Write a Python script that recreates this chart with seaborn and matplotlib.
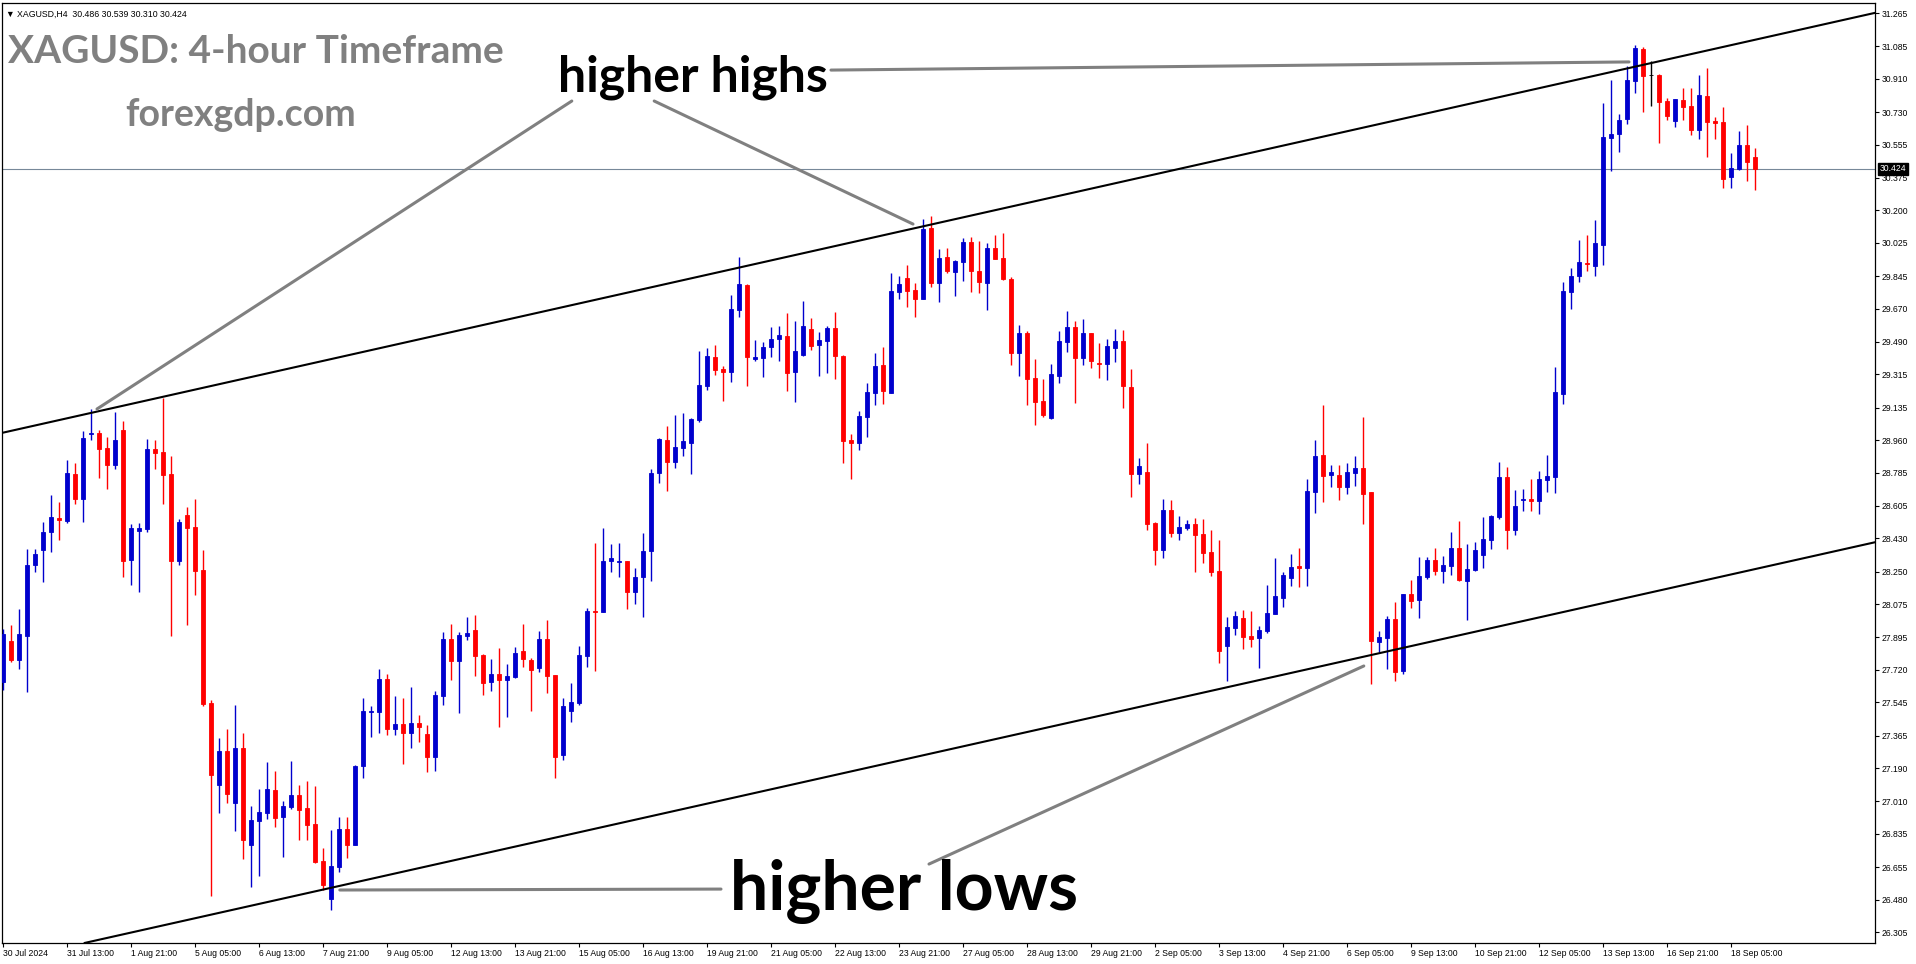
import matplotlib
matplotlib.use("Agg")
import matplotlib.pyplot as plt
import seaborn as sns
import numpy as np
import pandas as pd

# XAGUSD H4 candles, 30 Jul - 18 Sep 2024
opens = [
    27.655, 27.875, 27.772, 27.902, 28.285, 28.366, 28.463, 28.541, 28.524, 28.776,
    28.643, 28.994, 28.998, 28.917, 28.827, 29.014, 28.312, 28.470, 28.481, 28.911,
    28.895, 28.776, 28.308, 28.555, 28.490, 28.258, 27.542, 27.100, 27.280, 27.000,
    27.300, 26.775, 26.905, 26.949, 27.071, 26.927, 26.982, 27.043, 26.974, 26.888,
    26.688, 26.483, 26.658, 26.861, 26.775, 27.201, 27.492, 27.492, 27.670, 27.402,
    27.427, 27.380, 27.432, 27.373, 27.250, 27.580, 27.886, 27.769, 27.904, 27.935,
    27.800, 27.656, 27.697, 27.668, 27.683, 27.822, 27.774, 27.728, 27.888, 27.693,
    27.259, 27.500, 27.543, 27.797, 28.036, 28.034, 28.306, 28.302, 28.308, 28.138,
    28.221, 28.362, 28.780, 28.961, 28.843, 28.920, 28.947, 29.071, 29.254, 29.408,
    29.344, 29.325, 29.664, 29.797, 29.400, 29.405, 29.464, 29.507, 29.522, 29.329,
    29.421, 29.559, 29.475, 29.496, 29.565, 29.415, 28.960, 28.946, 29.086, 29.216,
    29.365, 29.216, 29.761, 29.835, 29.770, 29.723, 30.105, 29.810, 29.948, 29.869,
    29.923, 30.029, 29.873, 29.810, 29.997, 29.943, 29.831, 29.432, 29.538, 29.295,
    29.171, 29.079, 29.306, 29.491, 29.570, 29.405, 29.538, 29.376, 29.372, 29.459,
    29.495, 29.246, 28.778, 28.787, 28.512, 28.368, 28.582, 28.460, 28.487, 28.506,
    28.452, 28.355, 28.253, 27.849, 27.947, 27.999, 27.902, 27.893, 27.930, 28.022,
    28.109, 28.217, 28.280, 28.271, 28.681, 28.879, 28.773, 28.771, 28.708, 28.784,
    28.809, 28.679, 27.871, 27.893, 27.993, 27.714, 28.128, 28.098, 28.222, 28.312,
    28.254, 28.281, 28.377, 28.200, 28.260, 28.341, 28.422, 28.544, 28.760, 28.476,
    28.639, 28.640, 28.630, 28.745, 28.759, 29.209, 29.760, 29.847, 29.918, 29.900,
    30.014, 30.592, 30.613, 30.694, 30.899, 31.070, 30.930, 30.930, 30.790, 30.683,
    30.795, 30.763, 30.635, 30.817, 30.682, 30.676, 30.381, 30.424, 30.552, 30.486,
]
highs = [
    27.943, 27.961, 28.051, 28.375, 28.375, 28.517, 28.663, 28.625, 28.852, 28.836,
    29.009, 29.126, 29.012, 28.976, 29.111, 29.063, 28.506, 28.514, 28.965, 28.960,
    29.189, 28.874, 28.532, 28.600, 28.643, 28.366, 27.556, 27.350, 27.400, 27.530,
    27.380, 26.985, 27.078, 27.222, 27.174, 27.012, 27.228, 27.099, 27.120, 27.093,
    26.759, 26.856, 26.926, 26.926, 27.207, 27.568, 27.524, 27.724, 27.697, 27.578,
    27.568, 27.627, 27.475, 27.421, 27.605, 27.924, 27.967, 27.924, 28.005, 28.016,
    27.805, 27.778, 27.837, 27.753, 27.843, 27.969, 27.785, 27.930, 27.990, 27.693,
    27.570, 27.651, 27.849, 28.055, 28.406, 28.487, 28.400, 28.406, 28.308, 28.271,
    28.460, 28.805, 28.974, 29.036, 29.096, 29.107, 29.082, 29.441, 29.458, 29.473,
    29.360, 29.741, 29.948, 29.803, 29.500, 29.489, 29.570, 29.576, 29.646, 29.603,
    29.711, 29.619, 29.543, 29.576, 29.651, 29.421, 28.992, 29.117, 29.268, 29.430,
    29.462, 29.862, 29.846, 29.905, 29.808, 30.153, 30.170, 29.991, 29.997, 29.932,
    30.051, 30.056, 30.035, 30.024, 30.067, 30.078, 29.842, 29.581, 29.549, 29.397,
    29.289, 29.370, 29.549, 29.657, 29.603, 29.613, 29.538, 29.484, 29.505, 29.559,
    29.554, 29.343, 28.863, 28.944, 28.519, 28.641, 28.636, 28.550, 28.528, 28.539,
    28.533, 28.474, 28.420, 28.004, 28.037, 28.042, 28.037, 27.956, 28.177, 28.323,
    28.247, 28.344, 28.377, 28.749, 28.960, 29.149, 28.825, 28.825, 28.836, 28.874,
    29.084, 28.679, 27.929, 28.010, 28.085, 28.128, 28.204, 28.328, 28.328, 28.377,
    28.334, 28.463, 28.523, 28.398, 28.409, 28.544, 28.555, 28.841, 28.814, 28.689,
    28.698, 28.752, 28.793, 28.878, 29.353, 29.812, 29.888, 30.039, 30.066, 30.147,
    30.779, 30.903, 30.719, 30.979, 31.090, 31.080, 31.006, 30.935, 30.806, 30.800,
    30.860, 30.860, 30.930, 30.968, 30.703, 30.757, 30.509, 30.628, 30.660, 30.539,
]
lows = [
    27.610, 27.763, 27.725, 27.601, 28.249, 28.195, 28.357, 28.420, 28.510, 28.616,
    28.519, 28.960, 28.757, 28.697, 28.802, 28.222, 28.179, 28.139, 28.463, 28.805,
    28.616, 27.902, 28.285, 27.961, 28.123, 27.524, 26.500, 26.950, 27.000, 26.850,
    26.700, 26.550, 26.607, 26.916, 26.874, 26.712, 26.969, 26.802, 26.802, 26.676,
    26.532, 26.424, 26.631, 26.706, 26.775, 27.137, 27.358, 27.380, 27.369, 27.369,
    27.213, 27.299, 27.332, 27.170, 27.175, 27.532, 27.666, 27.488, 27.882, 27.688,
    27.585, 27.607, 27.413, 27.467, 27.674, 27.733, 27.500, 27.708, 27.593, 27.134,
    27.232, 27.437, 27.533, 27.737, 27.716, 28.030, 28.246, 28.223, 28.051, 28.073,
    28.003, 28.202, 28.726, 28.685, 28.807, 28.874, 28.778, 29.059, 29.233, 29.312,
    29.171, 29.273, 29.626, 29.254, 29.389, 29.302, 29.410, 29.387, 29.226, 29.167,
    29.415, 29.448, 29.307, 29.324, 29.291, 28.838, 28.751, 28.908, 28.978, 29.151,
    29.156, 29.216, 29.723, 29.680, 29.626, 29.723, 29.788, 29.707, 29.862, 29.739,
    29.820, 29.761, 29.756, 29.664, 29.936, 29.826, 29.365, 29.306, 29.149, 29.041,
    29.086, 29.073, 29.268, 29.435, 29.160, 29.367, 29.349, 29.295, 29.284, 29.381,
    29.133, 28.652, 28.724, 28.476, 28.287, 28.325, 28.438, 28.422, 28.476, 28.249,
    28.298, 28.227, 27.758, 27.660, 27.909, 27.833, 27.844, 27.731, 27.920, 28.022,
    28.060, 28.173, 28.168, 28.173, 28.568, 28.627, 28.708, 28.638, 28.670, 28.713,
    28.508, 27.644, 27.817, 27.725, 27.660, 27.698, 28.055, 28.001, 28.211, 28.233,
    28.190, 28.233, 28.200, 27.990, 28.254, 28.271, 28.373, 28.535, 28.373, 28.450,
    28.580, 28.580, 28.560, 28.680, 28.673, 29.155, 29.668, 29.814, 29.873, 29.846,
    29.906, 30.413, 30.516, 30.667, 30.835, 30.732, 30.764, 30.565, 30.689, 30.651,
    30.689, 30.608, 30.586, 30.489, 30.586, 30.322, 30.322, 30.419, 30.359, 30.310,
]
closes = [
    27.916, 27.772, 27.916, 28.285, 28.344, 28.463, 28.544, 28.530, 28.782, 28.643,
    28.969, 28.998, 28.911, 28.827, 28.958, 28.308, 28.485, 28.485, 28.911, 28.892,
    28.773, 28.308, 28.517, 28.487, 28.253, 27.534, 27.150, 27.280, 27.050, 27.300,
    26.800, 26.910, 26.952, 27.076, 26.922, 26.985, 27.043, 26.964, 26.883, 26.683,
    26.559, 26.661, 26.861, 26.775, 27.201, 27.498, 27.497, 27.670, 27.402, 27.427,
    27.380, 27.432, 27.412, 27.250, 27.584, 27.886, 27.769, 27.908, 27.918, 27.796,
    27.650, 27.697, 27.666, 27.685, 27.812, 27.776, 27.722, 27.888, 27.689, 27.252,
    27.525, 27.546, 27.801, 28.038, 28.032, 28.308, 28.325, 28.306, 28.142, 28.221,
    28.362, 28.784, 28.967, 28.843, 28.922, 28.955, 29.075, 29.258, 29.414, 29.341,
    29.325, 29.668, 29.803, 29.406, 29.408, 29.462, 29.505, 29.527, 29.324, 29.441,
    29.576, 29.469, 29.500, 29.565, 29.415, 28.956, 28.946, 29.090, 29.219, 29.360,
    29.226, 29.765, 29.802, 29.766, 29.723, 30.099, 29.810, 29.943, 29.873, 29.927,
    30.029, 29.874, 29.815, 29.997, 29.939, 29.831, 29.432, 29.538, 29.291, 29.165,
    29.095, 29.316, 29.495, 29.570, 29.405, 29.538, 29.388, 29.372, 29.468, 29.495,
    29.252, 28.778, 28.820, 28.508, 28.368, 28.582, 28.460, 28.490, 28.506, 28.449,
    28.352, 28.249, 27.822, 27.950, 28.010, 27.898, 27.887, 27.934, 28.026, 28.118,
    28.231, 28.274, 28.271, 28.685, 28.874, 28.767, 28.787, 28.708, 28.787, 28.809,
    28.670, 27.876, 27.896, 27.993, 27.709, 28.128, 28.092, 28.226, 28.312, 28.254,
    28.285, 28.377, 28.206, 28.263, 28.366, 28.425, 28.550, 28.760, 28.476, 28.604,
    28.642, 28.630, 28.752, 28.765, 29.218, 29.764, 29.845, 29.920, 29.913, 30.023,
    30.595, 30.611, 30.687, 30.903, 31.076, 30.926, 30.930, 30.786, 30.710, 30.800,
    30.759, 30.635, 30.822, 30.678, 30.674, 30.370, 30.428, 30.552, 30.462, 30.424,
]

time_labels = [
    "30 Jul 2024", "31 Jul 13:00", "1 Aug 21:00", "5 Aug 05:00", "6 Aug 13:00",
    "7 Aug 21:00", "9 Aug 05:00", "12 Aug 13:00", "13 Aug 21:00", "15 Aug 05:00",
    "16 Aug 13:00", "19 Aug 21:00", "21 Aug 05:00", "22 Aug 13:00", "23 Aug 21:00",
    "27 Aug 05:00", "28 Aug 13:00", "29 Aug 21:00", "2 Sep 05:00", "3 Sep 13:00",
    "4 Sep 21:00", "6 Sep 05:00", "9 Sep 13:00", "10 Sep 21:00", "12 Sep 05:00",
    "13 Sep 13:00", "16 Sep 21:00", "18 Sep 05:00",
]
price_ticks = [
    31.265, 31.085, 30.910, 30.730, 30.555, 30.375, 30.200, 30.025, 29.845,
    29.670, 29.490, 29.315, 29.135, 28.960, 28.785, 28.605, 28.430, 28.250,
    28.075, 27.895, 27.720, 27.545, 27.365, 27.190, 27.010, 26.835, 26.655,
    26.480, 26.305,
]
last_price = 30.424
header = "\u25bc XAGUSD,H4  30.486 30.539 30.310 30.424"

# channel lines: (bar index, price) anchors
upper_x, upper_y = [-0.125, 234.125], [28.999, 31.267]
lower_x, lower_y = [30.875, 234.125], [26.446, 28.410]

# grey pointer lines from the labels to the swing points
pointers = [
    ([103.5, 203.25], [30.957, 31.001]),
    ([71.1, 11.75], [30.790, 29.128]),
    ([81.4, 113.75], [30.790, 30.126]),
    ([42.1, 89.75], [26.532, 26.537]),
    ([115.75, 170.1], [26.672, 27.741]),
]

BULL = "#0000CD"
BEAR = "#FF0000"
W, H = 1916, 964

sns.set_theme(style="white")
plt.rcParams["font.family"] = ["Liberation Sans", "DejaVu Sans"]

df = pd.DataFrame({"open": opens, "high": highs, "low": lows, "close": closes})
df["bar"] = np.arange(len(df))
df["color"] = np.where(df["close"] > df["open"], BULL,
                       np.where(df["close"] < df["open"], BEAR, "black"))

fig = plt.figure(figsize=(W / 100, H / 100), dpi=100)
fig.patch.set_facecolor("white")
ax = fig.add_axes([2 / W, 1 - 943 / H, 1873 / W, 940 / H])
ax.set_facecolor("white")

ax.vlines(df["bar"], df["low"], df["high"], colors=df["color"], linewidth=1.0, zorder=3)
ax.bar(df["bar"], (df["close"] - df["open"]).abs(),
       bottom=df[["open", "close"]].min(axis=1), width=0.56,
       color=df["color"], edgecolor=df["color"], linewidth=0.6, zorder=4)

for xs, ys in [(upper_x, upper_y), (lower_x, lower_y)]:
    ax.axline((xs[0], ys[0]), (xs[1], ys[1]), color="black", linewidth=1.5, zorder=5)

for xs, ys in pointers:
    sns.lineplot(x=xs, y=ys, ax=ax, color="#808080", linewidth=2.2, zorder=6,
                 sort=False, estimator=None)

ax.axhline(last_price, color="#778899", linewidth=0.8, zorder=2)

ax.set_xlim(-0.125, 234.0)
ax.set_ylim(26.246, 31.319)

ax.yaxis.tick_right()
ax.set_yticks(price_ticks)
ax.set_yticklabels([f"{v:.3f}" for v in price_ticks])
ax.set_xticks(np.arange(0, 8 * len(time_labels), 8))
ax.set_xticklabels(time_labels)
for lab in ax.get_xticklabels():
    lab.set_horizontalalignment("left")
ax.tick_params(axis="both", direction="out", length=3, width=0.8, colors="black",
               labelsize=6.2, pad=1.5)
ax.tick_params(axis="y", right=True, left=False)
ax.tick_params(axis="x", bottom=True)
for s in ax.spines.values():
    s.set_color("black")
    s.set_linewidth(0.9)
ax.grid(False)

ax.annotate(f"{last_price:.3f}", xy=(1, last_price),
            xycoords=("axes fraction", "data"), xytext=(3.5, 0),
            textcoords="offset points", ha="left", va="center",
            fontsize=6.2, color="white", zorder=10, annotation_clip=False,
            bbox=dict(boxstyle="square,pad=0.2", fc="black", ec="black"))


def px(x, y):
    return x / W, 1 - y / H


fig.text(*px(6, 14), header, fontsize=6.3, va="center", color="black")
fig.text(*px(8, 63), "XAGUSD: 4-hour Timeframe", fontsize=28, fontweight="bold",
         color="#808080", family="Lato", va="baseline")
fig.text(*px(125, 126), "forexgdp.com", fontsize=27, fontweight="bold",
         color="#808080", family="Lato", va="baseline")
fig.text(*px(558, 92), "higher highs", fontsize=36, fontweight="bold",
         color="black", family="Lato", va="baseline")
fig.text(*px(730, 910), "higher lows", fontsize=49, fontweight="bold",
         color="black", family="Lato", va="baseline")

fig.savefig("out.png", dpi=100, facecolor="white")
